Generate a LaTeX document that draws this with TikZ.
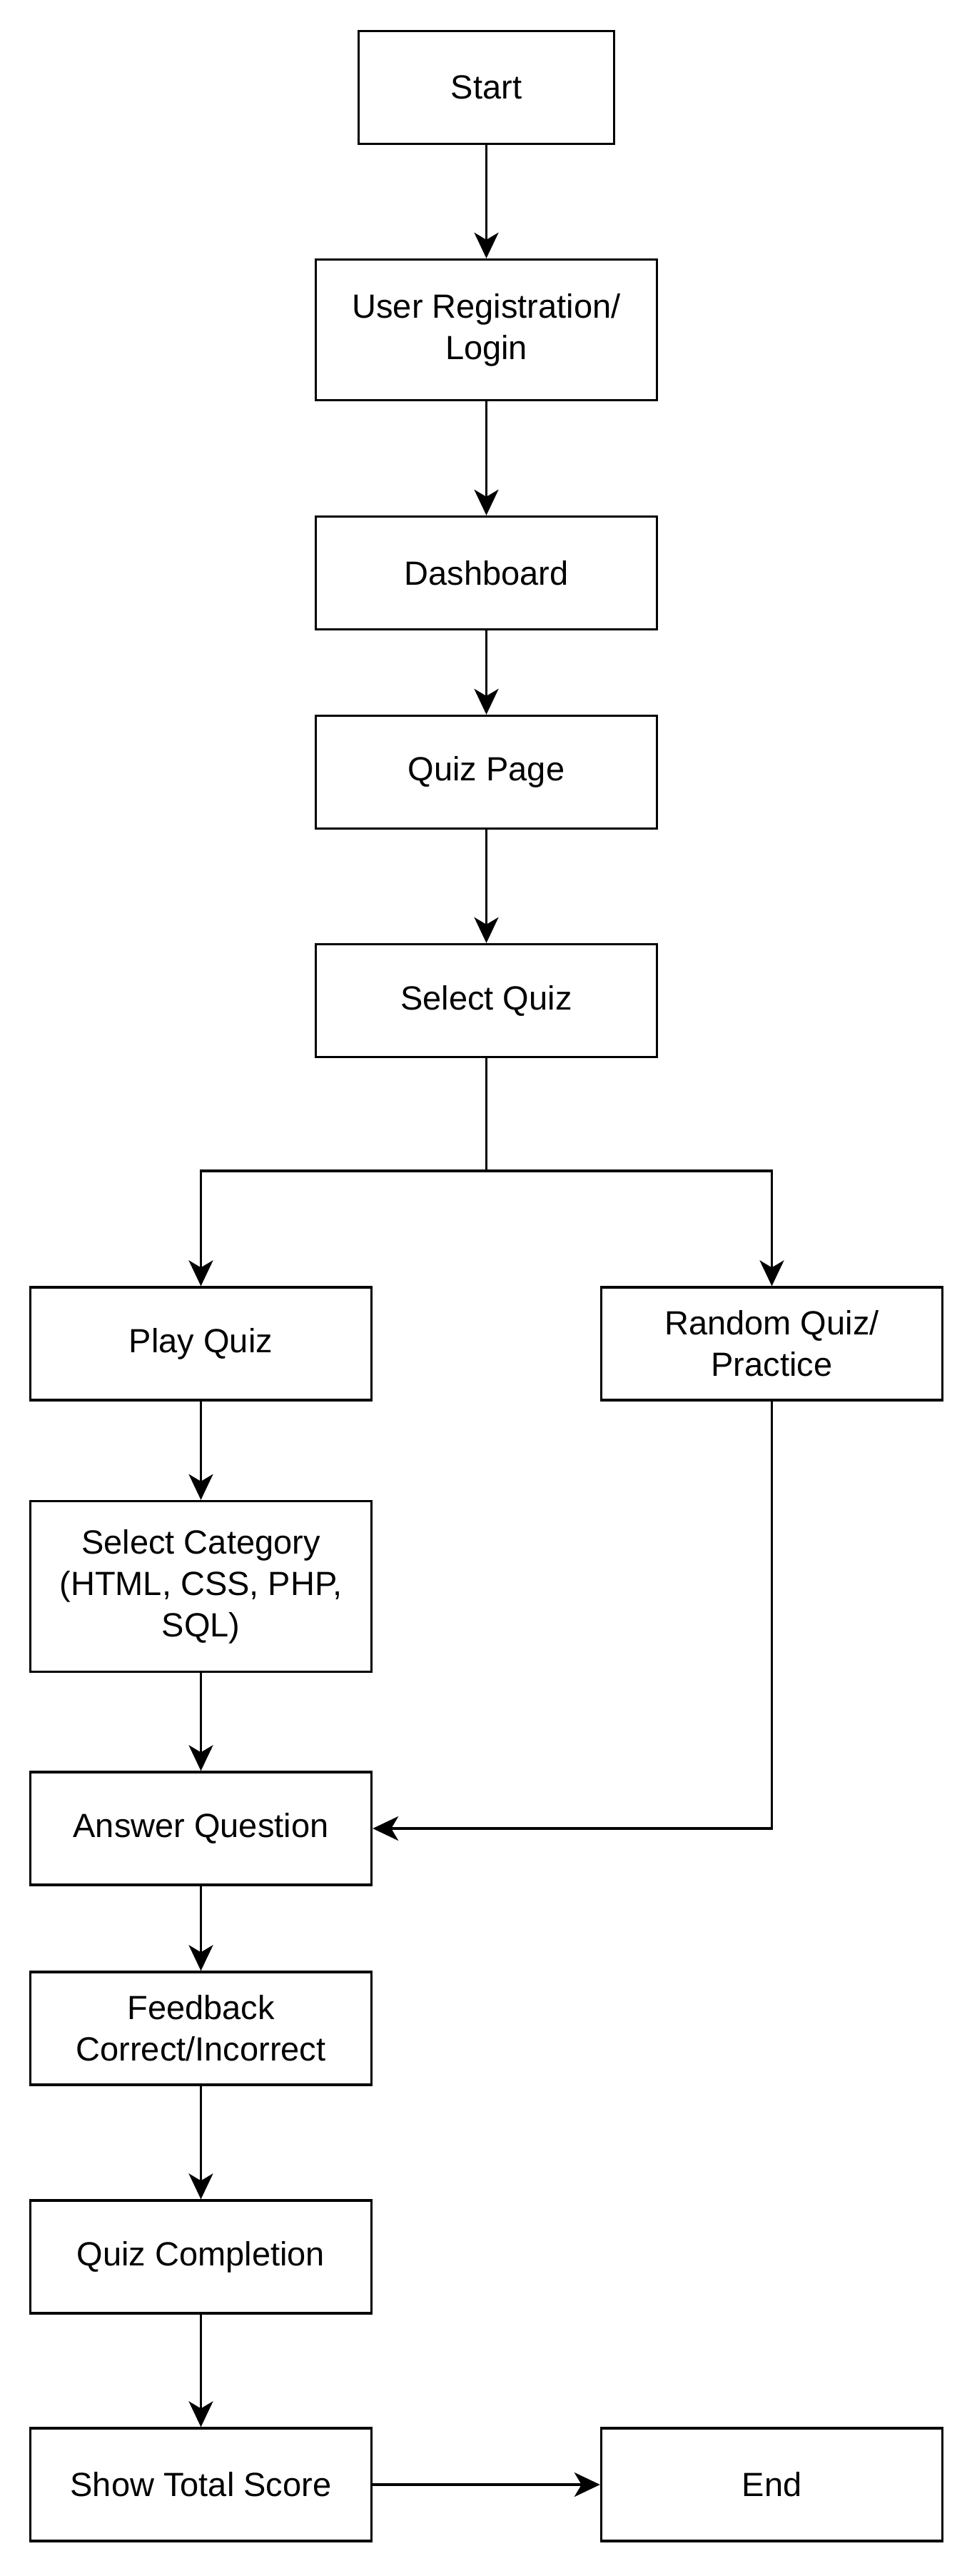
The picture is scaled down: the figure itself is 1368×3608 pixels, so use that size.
\documentclass[tikz,border=0pt]{standalone}
\usepackage{fontspec}
\setmainfont{Liberation Sans}
\usetikzlibrary{arrows.meta}
\begin{document}
\begin{tikzpicture}[x=1pt,y=-1pt,
 box/.style={draw=black, line width=3.4pt, fill=white, align=center, inner sep=0pt, font=\fontsize{47}{58}\selectfont},
 wide/.style={box, minimum width=478pt, minimum height=158pt},
 conn/.style={line width=3.4pt, -{Stealth[length=36pt,width=34pt,inset=10pt]}}]
\useasboundingbox[fill=white] (0,0) rectangle (1368,3608);
\node[box, minimum width=358pt, minimum height=158pt] (start) at (681.5,122.5) {Start};
\node[wide, minimum height=197pt] (reg) at (681.5,462) {User Registration/\\Login};
\node[wide] (dash) at (681.5,802.5) {Dashboard};
\node[wide] (qpage) at (681.5,1081.5) {Quiz Page};
\node[wide] (sel) at (681.5,1401.5) {Select Quiz};
\coordinate (split) at (681.5,1640);
\node[wide] (play) at (281.5,1882) {Play Quiz};
\node[wide] (rand) at (1081.5,1882) {Random Quiz/\\Practice};
\node[wide, minimum height=239pt] (cat) at (281.5,2222) {Select Category\\(HTML, CSS, PHP,\\SQL)};
\node[wide] (ans) at (281.5,2561) {Answer Question};
\node[wide] (fb) at (281.5,2841) {Feedback\\Correct/Incorrect};
\node[wide] (comp) at (281.5,3161) {Quiz Completion};
\node[wide] (score) at (281.5,3480) {Show Total Score};
\node[wide] (stop) at (1081.5,3480) {End};
\draw[conn] (start) -- (reg);
\draw[conn] (reg) -- (dash);
\draw[conn] (dash) -- (qpage);
\draw[conn] (qpage) -- (sel);
\draw[conn] (sel.south) -- (split) -| (play.north);
\draw[conn] (split) -| (rand.north);
\draw[conn] (play) -- (cat);
\draw[conn] (cat) -- (ans);
\draw[conn] (rand.south) |- (ans.east);
\draw[conn] (ans) -- (fb);
\draw[conn] (fb) -- (comp);
\draw[conn] (comp) -- (score);
\draw[conn] (score) -- (stop);
\end{tikzpicture}
\end{document}
